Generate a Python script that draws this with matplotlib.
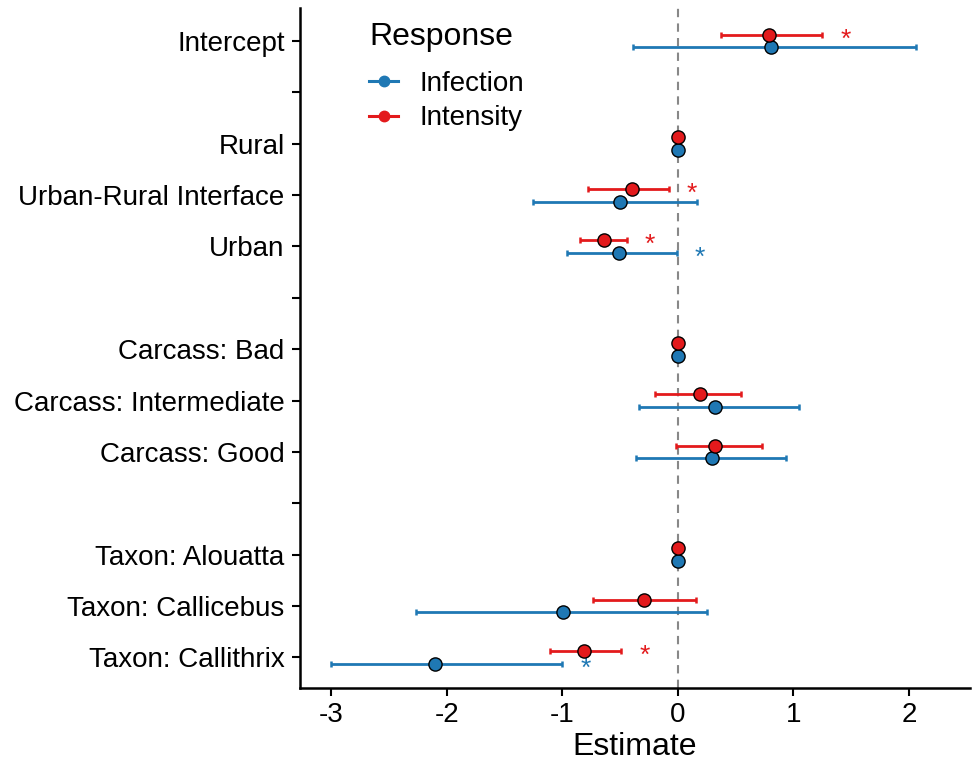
import matplotlib.pyplot as plt
from matplotlib.lines import Line2D

plt.rcParams['font.family'] = ['Liberation Sans', 'DejaVu Sans']
plt.rcParams['axes.unicode_minus'] = False

# rows from top to bottom; "" rows are spacers
terms = ["Intercept", "", "Rural", "Urban-Rural Interface", "Urban", "",
         "Carcass: Bad", "Carcass: Intermediate", "Carcass: Good", "",
         "Taxon: Alouatta", "Taxon: Callicebus", "Taxon: Callithrix"]

# Infection (blue)
inf_terms = ["Intercept", "Rural", "Urban-Rural Interface", "Urban",
             "Carcass: Bad", "Carcass: Intermediate", "Carcass: Good",
             "Taxon: Alouatta", "Taxon: Callicebus", "Taxon: Callithrix"]
inf_est = [0.81, 0.0, -0.50, -0.51, 0.0, 0.32, 0.30, 0.0, -0.99, -2.10]
inf_lo = [-0.385, 0.0, -1.25, -0.955, 0.0, -0.34, -0.36, 0.0, -2.27, -3.0]
inf_hi = [2.06, 0.0, 0.165, -0.01, 0.0, 1.05, 0.94, 0.0, 0.255, -1.0]
inf_sig = [False, False, False, True, False, False, False, False, False, True]

# Intensity (red)
int_est = [0.79, 0.0, -0.40, -0.64, 0.0, 0.19, 0.325, 0.0, -0.29, -0.815]
int_lo = [0.37, 0.0, -0.78, -0.85, 0.0, -0.196, -0.015, 0.0, -0.73, -1.11]
int_hi = [1.25, 0.0, -0.08, -0.44, 0.0, 0.55, 0.73, 0.0, 0.16, -0.49]
int_sig = [True, False, True, True, False, False, False, False, False, True]

blue = "#1F78B4"
red = "#E31A1C"

fig = plt.figure(figsize=(9.74, 7.63), dpi=100)
ax = fig.add_axes([0.308, 0.098, 0.688, 0.892])

ax.axvline(0, color="#888888", linestyle=(0, (4, 3)), linewidth=1.5, zorder=1)

ypos = {t: i for i, t in enumerate(terms) if t}
dodge = 0.125


def draw(est, lo, hi, sig, color, off):
    for t, e, l, h, s in zip(inf_terms, est, lo, hi, sig):
        y = ypos[t] + off
        if h > l:
            ax.errorbar(e, y, xerr=[[e - l], [h - e]], fmt="none", ecolor=color,
                        elinewidth=2, capsize=2, capthick=1.8, zorder=2)
        ax.plot(e, y, "o", ms=9.5, mfc=color, mec="black", mew=1, zorder=3)
        if s:
            ax.text(h + 0.2, y + 0.1, "*", color=color, fontsize=19,
                    ha="center", va="center")


draw(inf_est, inf_lo, inf_hi, inf_sig, blue, dodge)
draw(int_est, int_lo, int_hi, int_sig, red, -dodge)

ax.set_ylim(len(terms) - 1 + 0.6, -0.65)
ax.set_xlim(-3.27, 2.53)
ax.set_yticks(range(len(terms)))
ax.set_yticklabels(terms)
ax.set_xticks([-3, -2, -1, 0, 1, 2])
ax.tick_params(labelsize=20, width=1.5, length=6, colors="black")
ax.tick_params(axis="x", pad=4)
ax.tick_params(axis="y", pad=5)
ax.set_xlabel("Estimate", fontsize=23, labelpad=3)

for s in ["top", "right"]:
    ax.spines[s].set_visible(False)
for s in ["left", "bottom"]:
    ax.spines[s].set_linewidth(1.8)

handles = [Line2D([0], [0], color=blue, lw=2.2, marker="o", ms=7.5, mec=blue),
           Line2D([0], [0], color=red, lw=2.2, marker="o", ms=7.5, mec=red)]
leg = ax.legend(handles, ["Infection", "Intensity"], title="Response",
                loc="upper left", bbox_to_anchor=(0.07, 1.012), frameon=False,
                fontsize=20, title_fontsize=23, handlelength=1.05,
                handletextpad=0.75, labelspacing=0.3, borderpad=0.3)
leg._legend_box.align = "left"
leg._legend_box.sep = 14

fig.savefig("out.png", dpi=100)
